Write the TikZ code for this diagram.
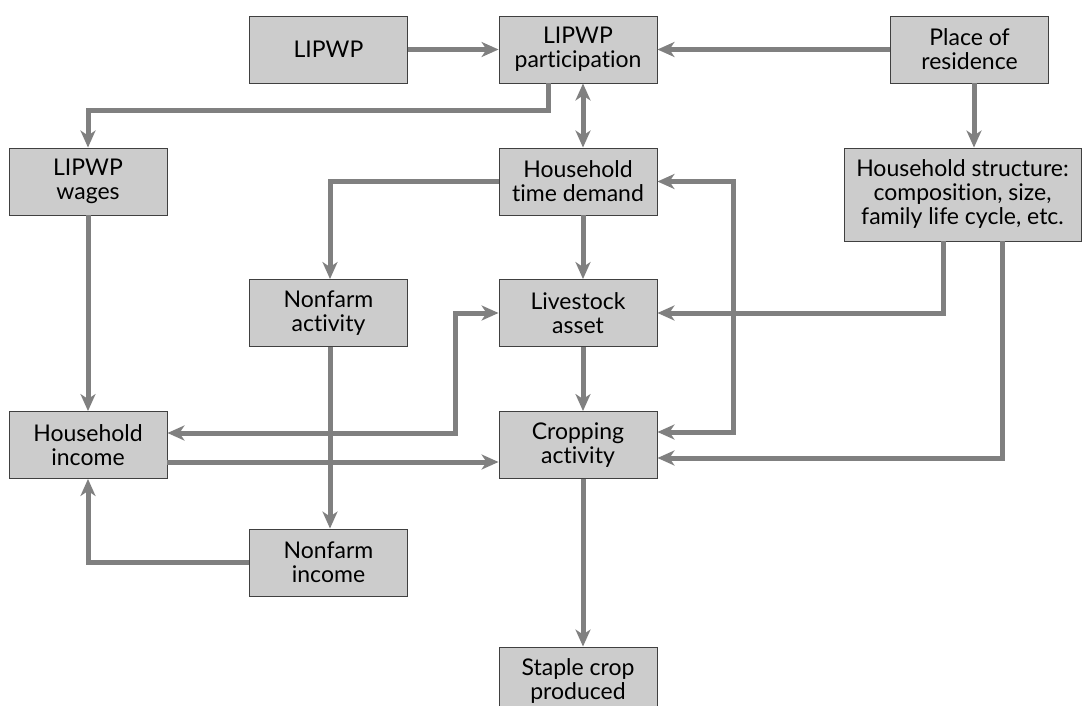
\documentclass[tikz,border=0pt]{standalone}
\usepackage{fontspec}
\setmainfont[Ligatures=NoCommon]{Lato}
\usetikzlibrary{arrows.meta,calc}
\definecolor{boxfill}{HTML}{CCCCCC}
\definecolor{linegray}{HTML}{808080}
\tikzset{
  box/.style={draw=black!75, line width=0.9pt, fill=boxfill, minimum width=158pt,
    minimum height=67pt, align=center, inner sep=2pt, font=\fontsize{23}{24}\selectfont},
  conn/.style={draw=linegray, line width=5pt},
  tip/.style={-{Stealth[length=17pt,width=15pt,inset=5pt]}},
  bitip/.style={{Stealth[length=17pt,width=15pt,inset=5pt]}-{Stealth[length=17pt,width=15pt,inset=5pt]}},
}
\begin{document}
\begin{tikzpicture}[x=1pt,y=-1pt]
\useasboundingbox (0,0) rectangle (1082,706);
\clip (0,0) rectangle (1082,706);

\node[box] (lipwp) at (328.5,49.5) {LIPWP};
\node[box] (part) at (578,49.5) {LIPWP\\participation};
\node[box] (place) at (969.5,49.5) {Place of\\residence};
\node[box] (wages) at (88,181.5) {LIPWP\\wages};
\node[box] (time) at (578,181.5) {Household\\time demand};
\node[box, minimum width=237pt, minimum height=93pt] (hs) at (962.5,194.5) {Household structure:\\composition, size,\\family life cycle, etc.};
\node[box] (nfa) at (328.5,313) {Nonfarm\\activity};
\node[box] (live) at (578,313) {Livestock\\asset};
\node[box] (inc) at (88,445) {Household\\income};
\node[box] (crop) at (578,445) {Cropping\\activity};
\node[box] (nfi) at (328.5,562.5) {Nonfarm\\income};
\node[box] (staple) at (578,680.5) {Staple crop\\produced};

\coordinate (fb) at (733,0);
\coordinate (ll) at (455,0);

% top row
\draw[conn,tip] (lipwp) -- (part);
\draw[conn,tip] (place) -- (part);
% participation -> wages
\draw[conn,tip] ($(part.south)+(-30,0)$) -- ++(0,27) -| (wages.north);
% participation <-> time demand
\draw[conn,bitip] ($(part.south)+(5,0)$) -- ($(time.north)+(5,0)$);
% place -> household structure
\draw[conn,tip] ($(place.south)+(4.5,0)$) -- ($(hs.north)+(11.5,0)$);
% time demand -> nonfarm activity
\draw[conn,tip] (time.west) -| ($(nfa.north)+(1.5,0)$);
% main column
\draw[conn,tip] ($(time.south)+(5,0)$) -- ($(live.north)+(5,0)$);
\draw[conn,tip] ($(live.south)+(5,0)$) -- ($(crop.north)+(5,0)$);
\draw[conn,tip] ($(crop.south)+(5,0)$) -- ($(staple.north)+(5,0)$);
% household structure -> livestock, cropping
\draw[conn,tip] ($(hs.south)+(-19.5,0)$) |- (live.east);
\draw[conn,tip] ($(hs.south)+(39.5,0)$) |- ($(crop.east)+(0,13)$);
% feedback time demand <-> cropping
\draw[conn,bitip] (time.east) -| ($(fb |- crop.east)+(0,-13)$) -- ($(crop.east)+(0,-13)$);
% livestock <-> household income
\draw[conn,bitip] (live.west) -| ($(ll |- inc.east)+(0,-12)$) -- ($(inc.east)+(0,-12)$);
% income -> cropping
\draw[conn,tip] ($(inc.east)+(0,17)$) -- ($(crop.west)+(0,17)$);
% wages -> income
\draw[conn,tip] (wages.south) -- (inc.north);
% nonfarm activity -> nonfarm income
\draw[conn,tip] ($(nfa.south)+(1.5,0)$) -- ($(nfi.north)+(1.5,0)$);
% nonfarm income -> household income
\draw[conn,tip] (nfi.west) -| (inc.south);
\end{tikzpicture}
\end{document}
